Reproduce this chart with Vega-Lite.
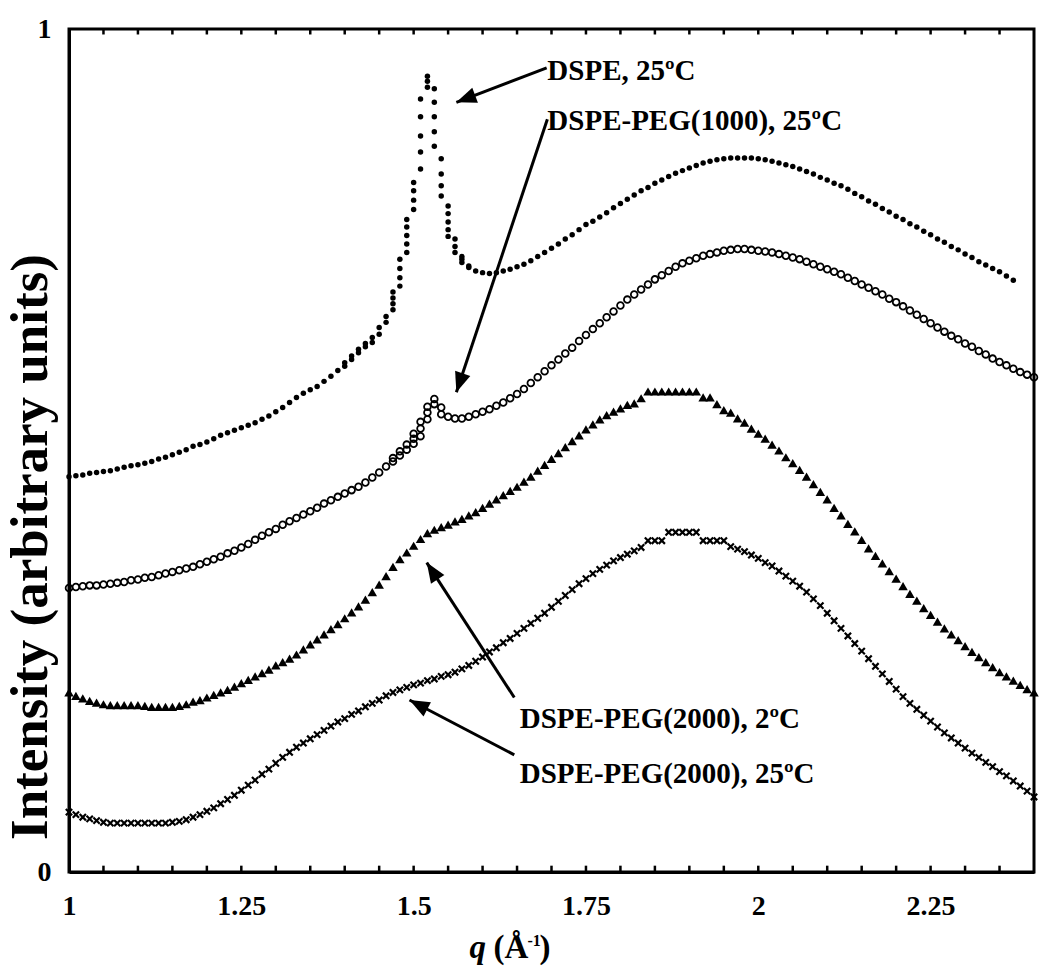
{
  "$schema": "https://vega.github.io/schema/vega-lite/v6.json",
  "width": 965,
  "height": 843,
  "autosize": {"type": "none"},
  "padding": {"left": 69, "top": 29, "right": 16, "bottom": 106},
  "background": "white",
  "config": {"view": {"stroke": "black", "strokeWidth": 3}, "font": "Liberation Serif"},
  "resolve": {"axis": {"x": "independent", "y": "independent"}},
  "datasets": {
    "A": [
      {"q":1.00,"v":0.469},{"q":1.01,"v":0.470},{"q":1.02,"v":0.471},{"q":1.03,"v":0.473},{"q":1.04,"v":0.474},{"q":1.05,"v":0.475},{"q":1.06,"v":0.476},{"q":1.07,"v":0.478},{"q":1.08,"v":0.480},{"q":1.09,"v":0.482},
      {"q":1.10,"v":0.483},{"q":1.11,"v":0.485},{"q":1.12,"v":0.487},{"q":1.13,"v":0.490},{"q":1.14,"v":0.492},{"q":1.15,"v":0.495},{"q":1.16,"v":0.498},{"q":1.17,"v":0.501},{"q":1.18,"v":0.505},{"q":1.19,"v":0.507},
      {"q":1.20,"v":0.510},{"q":1.21,"v":0.514},{"q":1.22,"v":0.518},{"q":1.23,"v":0.521},{"q":1.24,"v":0.524},{"q":1.25,"v":0.527},{"q":1.26,"v":0.530},{"q":1.27,"v":0.533},{"q":1.28,"v":0.537},{"q":1.29,"v":0.541},
      {"q":1.30,"v":0.546},{"q":1.31,"v":0.551},{"q":1.32,"v":0.557},{"q":1.33,"v":0.563},{"q":1.34,"v":0.568},{"q":1.35,"v":0.572},{"q":1.36,"v":0.576},{"q":1.37,"v":0.582},{"q":1.38,"v":0.588},{"q":1.39,"v":0.595},
      {"q":1.40,"v":0.600},{"q":1.40,"v":0.604},{"q":1.41,"v":0.608},{"q":1.41,"v":0.612},{"q":1.42,"v":0.616},{"q":1.42,"v":0.620},{"q":1.43,"v":0.623},{"q":1.43,"v":0.627},{"q":1.44,"v":0.628},{"q":1.44,"v":0.634},
      {"q":1.45,"v":0.638},{"q":1.45,"v":0.646},{"q":1.46,"v":0.652},{"q":1.46,"v":0.659},
      {"q":1.47,"v":0.667},{"q":1.47,"v":0.674},{"q":1.47,"v":0.681},{"q":1.47,"v":0.688},
      {"q":1.48,"v":0.695},{"q":1.48,"v":0.705},{"q":1.48,"v":0.716},{"q":1.48,"v":0.727},
      {"q":1.49,"v":0.735},{"q":1.49,"v":0.745},{"q":1.49,"v":0.755},{"q":1.49,"v":0.765},{"q":1.49,"v":0.774},
      {"q":1.50,"v":0.786},{"q":1.50,"v":0.797},{"q":1.50,"v":0.808},{"q":1.50,"v":0.818},
      {"q":1.51,"v":0.834},{"q":1.51,"v":0.854},{"q":1.51,"v":0.873},{"q":1.51,"v":0.896},{"q":1.51,"v":0.917},
      {"q":1.52,"v":0.931},{"q":1.52,"v":0.938},{"q":1.52,"v":0.944},
      {"q":1.53,"v":0.861},{"q":1.53,"v":0.878},{"q":1.53,"v":0.896},{"q":1.53,"v":0.913},{"q":1.53,"v":0.929},
      {"q":1.54,"v":0.802},{"q":1.54,"v":0.814},{"q":1.54,"v":0.828},{"q":1.54,"v":0.846},
      {"q":1.55,"v":0.754},{"q":1.55,"v":0.762},{"q":1.55,"v":0.771},{"q":1.55,"v":0.781},{"q":1.55,"v":0.790},
      {"q":1.56,"v":0.735},{"q":1.56,"v":0.742},{"q":1.56,"v":0.751},
      {"q":1.57,"v":0.723},{"q":1.57,"v":0.727},{"q":1.57,"v":0.730},
      {"q":1.58,"v":0.717},{"q":1.58,"v":0.719},{"q":1.59,"v":0.713},
      {"q":1.60,"v":0.711},{"q":1.61,"v":0.710},{"q":1.62,"v":0.711},{"q":1.63,"v":0.713},{"q":1.64,"v":0.715},{"q":1.65,"v":0.718},{"q":1.66,"v":0.721},{"q":1.67,"v":0.725},{"q":1.68,"v":0.730},{"q":1.69,"v":0.735},
      {"q":1.70,"v":0.740},{"q":1.71,"v":0.745},{"q":1.72,"v":0.751},{"q":1.73,"v":0.756},{"q":1.74,"v":0.762},{"q":1.75,"v":0.768},{"q":1.76,"v":0.772},{"q":1.77,"v":0.777},{"q":1.78,"v":0.782},{"q":1.79,"v":0.788},
      {"q":1.80,"v":0.793},{"q":1.81,"v":0.798},{"q":1.82,"v":0.803},{"q":1.83,"v":0.808},{"q":1.84,"v":0.812},{"q":1.85,"v":0.817},{"q":1.86,"v":0.821},{"q":1.87,"v":0.825},{"q":1.88,"v":0.829},{"q":1.89,"v":0.832},
      {"q":1.90,"v":0.835},{"q":1.91,"v":0.838},{"q":1.92,"v":0.841},{"q":1.93,"v":0.843},{"q":1.94,"v":0.845},{"q":1.95,"v":0.846},{"q":1.96,"v":0.847},{"q":1.97,"v":0.847},{"q":1.98,"v":0.847},{"q":1.99,"v":0.847},
      {"q":2.00,"v":0.846},{"q":2.01,"v":0.845},{"q":2.02,"v":0.843},{"q":2.03,"v":0.841},{"q":2.04,"v":0.839},{"q":2.05,"v":0.837},{"q":2.06,"v":0.834},{"q":2.07,"v":0.831},{"q":2.08,"v":0.828},{"q":2.09,"v":0.824},
      {"q":2.10,"v":0.821},{"q":2.11,"v":0.817},{"q":2.12,"v":0.814},{"q":2.13,"v":0.810},{"q":2.14,"v":0.805},{"q":2.15,"v":0.801},{"q":2.16,"v":0.796},{"q":2.17,"v":0.792},{"q":2.18,"v":0.787},{"q":2.19,"v":0.783},
      {"q":2.20,"v":0.778},{"q":2.21,"v":0.774},{"q":2.22,"v":0.769},{"q":2.23,"v":0.765},{"q":2.24,"v":0.760},{"q":2.25,"v":0.756},{"q":2.26,"v":0.751},{"q":2.27,"v":0.747},{"q":2.28,"v":0.742},{"q":2.29,"v":0.738},
      {"q":2.30,"v":0.733},{"q":2.31,"v":0.729},{"q":2.32,"v":0.724},{"q":2.33,"v":0.720},{"q":2.34,"v":0.716},{"q":2.35,"v":0.712},{"q":2.36,"v":0.707},{"q":2.37,"v":0.702}
    ],
    "B": [
      {"q":1.00,"v":0.337},{"q":1.01,"v":0.338},{"q":1.02,"v":0.339},{"q":1.03,"v":0.340},{"q":1.04,"v":0.340},{"q":1.05,"v":0.341},{"q":1.06,"v":0.342},{"q":1.07,"v":0.343},{"q":1.08,"v":0.344},{"q":1.09,"v":0.346},
      {"q":1.10,"v":0.347},{"q":1.11,"v":0.349},{"q":1.12,"v":0.350},{"q":1.13,"v":0.352},{"q":1.14,"v":0.354},{"q":1.15,"v":0.356},{"q":1.16,"v":0.358},{"q":1.17,"v":0.360},{"q":1.18,"v":0.362},{"q":1.19,"v":0.365},
      {"q":1.20,"v":0.368},{"q":1.21,"v":0.371},{"q":1.22,"v":0.374},{"q":1.23,"v":0.378},{"q":1.24,"v":0.381},{"q":1.25,"v":0.385},{"q":1.26,"v":0.389},{"q":1.27,"v":0.394},{"q":1.28,"v":0.399},{"q":1.29,"v":0.403},
      {"q":1.30,"v":0.407},{"q":1.31,"v":0.412},{"q":1.32,"v":0.416},{"q":1.33,"v":0.420},{"q":1.34,"v":0.424},{"q":1.35,"v":0.428},{"q":1.36,"v":0.432},{"q":1.37,"v":0.437},{"q":1.38,"v":0.441},{"q":1.39,"v":0.445},
      {"q":1.40,"v":0.449},{"q":1.41,"v":0.453},{"q":1.42,"v":0.457},{"q":1.43,"v":0.462},{"q":1.44,"v":0.468},{"q":1.45,"v":0.474},{"q":1.46,"v":0.481},
      {"q":1.47,"v":0.487},{"q":1.47,"v":0.491},{"q":1.48,"v":0.494},{"q":1.48,"v":0.499},{"q":1.49,"v":0.501},{"q":1.49,"v":0.507},
      {"q":1.50,"v":0.508},{"q":1.50,"v":0.514},{"q":1.50,"v":0.520},{"q":1.51,"v":0.517},{"q":1.51,"v":0.526},{"q":1.51,"v":0.534},
      {"q":1.52,"v":0.537},{"q":1.52,"v":0.545},{"q":1.52,"v":0.552},{"q":1.53,"v":0.555},{"q":1.53,"v":0.561},{"q":1.54,"v":0.543},{"q":1.54,"v":0.551},
      {"q":1.55,"v":0.540},{"q":1.56,"v":0.538},{"q":1.57,"v":0.538},{"q":1.58,"v":0.540},{"q":1.59,"v":0.543},
      {"q":1.60,"v":0.546},{"q":1.61,"v":0.549},{"q":1.62,"v":0.553},{"q":1.63,"v":0.557},{"q":1.64,"v":0.562},{"q":1.65,"v":0.567},{"q":1.66,"v":0.573},{"q":1.67,"v":0.580},{"q":1.68,"v":0.587},{"q":1.69,"v":0.594},
      {"q":1.70,"v":0.601},{"q":1.71,"v":0.608},{"q":1.72,"v":0.615},{"q":1.73,"v":0.622},{"q":1.74,"v":0.630},{"q":1.75,"v":0.637},{"q":1.76,"v":0.644},{"q":1.77,"v":0.651},{"q":1.78,"v":0.658},{"q":1.79,"v":0.665},
      {"q":1.80,"v":0.672},{"q":1.81,"v":0.679},{"q":1.82,"v":0.685},{"q":1.83,"v":0.691},{"q":1.84,"v":0.697},{"q":1.85,"v":0.703},{"q":1.86,"v":0.708},{"q":1.87,"v":0.713},{"q":1.88,"v":0.718},{"q":1.89,"v":0.722},
      {"q":1.90,"v":0.725},{"q":1.91,"v":0.728},{"q":1.92,"v":0.731},{"q":1.93,"v":0.733},{"q":1.94,"v":0.735},{"q":1.95,"v":0.737},{"q":1.96,"v":0.738},{"q":1.97,"v":0.739},{"q":1.98,"v":0.739},{"q":1.99,"v":0.738},
      {"q":2.00,"v":0.737},{"q":2.01,"v":0.736},{"q":2.02,"v":0.735},{"q":2.03,"v":0.733},{"q":2.04,"v":0.731},{"q":2.05,"v":0.729},{"q":2.06,"v":0.727},{"q":2.07,"v":0.724},{"q":2.08,"v":0.721},{"q":2.09,"v":0.718},
      {"q":2.10,"v":0.715},{"q":2.11,"v":0.712},{"q":2.12,"v":0.709},{"q":2.13,"v":0.705},{"q":2.14,"v":0.701},{"q":2.15,"v":0.697},{"q":2.16,"v":0.693},{"q":2.17,"v":0.689},{"q":2.18,"v":0.685},{"q":2.19,"v":0.680},
      {"q":2.20,"v":0.676},{"q":2.21,"v":0.671},{"q":2.22,"v":0.666},{"q":2.23,"v":0.661},{"q":2.24,"v":0.656},{"q":2.25,"v":0.651},{"q":2.26,"v":0.646},{"q":2.27,"v":0.641},{"q":2.28,"v":0.636},{"q":2.29,"v":0.632},
      {"q":2.30,"v":0.627},{"q":2.31,"v":0.623},{"q":2.32,"v":0.618},{"q":2.33,"v":0.614},{"q":2.34,"v":0.609},{"q":2.35,"v":0.605},{"q":2.36,"v":0.601},{"q":2.37,"v":0.597},{"q":2.38,"v":0.593},{"q":2.39,"v":0.590},{"q":2.40,"v":0.587}
    ],
    "C": [
      {"q":1.00,"v":0.213},{"q":1.01,"v":0.209},{"q":1.02,"v":0.206},{"q":1.03,"v":0.203},{"q":1.04,"v":0.201},{"q":1.05,"v":0.199},{"q":1.06,"v":0.198},{"q":1.07,"v":0.198},{"q":1.08,"v":0.198},{"q":1.09,"v":0.198},
      {"q":1.10,"v":0.198},{"q":1.11,"v":0.197},{"q":1.12,"v":0.196},{"q":1.13,"v":0.196},{"q":1.14,"v":0.196},{"q":1.15,"v":0.196},{"q":1.16,"v":0.197},{"q":1.17,"v":0.199},{"q":1.18,"v":0.202},{"q":1.19,"v":0.204},
      {"q":1.20,"v":0.207},{"q":1.21,"v":0.210},{"q":1.22,"v":0.213},{"q":1.23,"v":0.216},{"q":1.24,"v":0.220},{"q":1.25,"v":0.224},{"q":1.26,"v":0.228},{"q":1.27,"v":0.232},{"q":1.28,"v":0.236},{"q":1.29,"v":0.240},
      {"q":1.30,"v":0.245},{"q":1.31,"v":0.249},{"q":1.32,"v":0.253},{"q":1.33,"v":0.258},{"q":1.34,"v":0.264},{"q":1.35,"v":0.270},{"q":1.36,"v":0.276},{"q":1.37,"v":0.282},{"q":1.38,"v":0.288},{"q":1.39,"v":0.294},
      {"q":1.40,"v":0.301},{"q":1.41,"v":0.308},{"q":1.42,"v":0.315},{"q":1.43,"v":0.323},{"q":1.44,"v":0.332},{"q":1.45,"v":0.341},{"q":1.46,"v":0.351},{"q":1.47,"v":0.362},{"q":1.48,"v":0.371},{"q":1.49,"v":0.379},
      {"q":1.50,"v":0.387},{"q":1.51,"v":0.395},{"q":1.52,"v":0.402},{"q":1.53,"v":0.406},{"q":1.54,"v":0.409},{"q":1.55,"v":0.412},{"q":1.56,"v":0.416},{"q":1.57,"v":0.419},{"q":1.58,"v":0.423},{"q":1.59,"v":0.427},
      {"q":1.60,"v":0.432},{"q":1.61,"v":0.437},{"q":1.62,"v":0.442},{"q":1.63,"v":0.447},{"q":1.64,"v":0.452},{"q":1.65,"v":0.457},{"q":1.66,"v":0.463},{"q":1.67,"v":0.469},{"q":1.68,"v":0.476},{"q":1.69,"v":0.483},
      {"q":1.70,"v":0.490},{"q":1.71,"v":0.497},{"q":1.72,"v":0.504},{"q":1.73,"v":0.511},{"q":1.74,"v":0.518},{"q":1.75,"v":0.525},{"q":1.76,"v":0.531},{"q":1.77,"v":0.537},{"q":1.78,"v":0.542},{"q":1.79,"v":0.546},
      {"q":1.80,"v":0.550},{"q":1.81,"v":0.554},{"q":1.82,"v":0.556},{"q":1.83,"v":0.562},{"q":1.84,"v":0.570},{"q":1.85,"v":0.570},{"q":1.86,"v":0.570},{"q":1.87,"v":0.570},{"q":1.88,"v":0.570},{"q":1.89,"v":0.570},
      {"q":1.90,"v":0.570},{"q":1.91,"v":0.570},{"q":1.92,"v":0.563},{"q":1.93,"v":0.563},{"q":1.94,"v":0.555},{"q":1.95,"v":0.548},{"q":1.96,"v":0.545},{"q":1.97,"v":0.538},{"q":1.98,"v":0.533},{"q":1.99,"v":0.526},
      {"q":2.00,"v":0.520},{"q":2.01,"v":0.514},{"q":2.02,"v":0.507},{"q":2.03,"v":0.500},{"q":2.04,"v":0.492},{"q":2.05,"v":0.485},{"q":2.06,"v":0.477},{"q":2.07,"v":0.469},{"q":2.08,"v":0.460},{"q":2.09,"v":0.451},
      {"q":2.10,"v":0.442},{"q":2.11,"v":0.432},{"q":2.12,"v":0.423},{"q":2.13,"v":0.413},{"q":2.14,"v":0.404},{"q":2.15,"v":0.394},{"q":2.16,"v":0.384},{"q":2.17,"v":0.375},{"q":2.18,"v":0.366},{"q":2.19,"v":0.357},
      {"q":2.20,"v":0.348},{"q":2.21,"v":0.339},{"q":2.22,"v":0.330},{"q":2.23,"v":0.322},{"q":2.24,"v":0.313},{"q":2.25,"v":0.305},{"q":2.26,"v":0.297},{"q":2.27,"v":0.289},{"q":2.28,"v":0.282},{"q":2.29,"v":0.275},
      {"q":2.30,"v":0.268},{"q":2.31,"v":0.261},{"q":2.32,"v":0.255},{"q":2.33,"v":0.249},{"q":2.34,"v":0.243},{"q":2.35,"v":0.237},{"q":2.36,"v":0.232},{"q":2.37,"v":0.227},{"q":2.38,"v":0.222},{"q":2.39,"v":0.217},{"q":2.40,"v":0.213}
    ],
    "D": [
      {"q":1.00,"v":0.071},{"q":1.01,"v":0.068},{"q":1.02,"v":0.065},{"q":1.03,"v":0.063},{"q":1.04,"v":0.061},{"q":1.05,"v":0.059},{"q":1.06,"v":0.058},{"q":1.07,"v":0.058},{"q":1.08,"v":0.058},{"q":1.09,"v":0.058},
      {"q":1.10,"v":0.058},{"q":1.11,"v":0.058},{"q":1.12,"v":0.058},{"q":1.13,"v":0.058},{"q":1.14,"v":0.058},{"q":1.15,"v":0.059},{"q":1.16,"v":0.060},{"q":1.17,"v":0.062},{"q":1.18,"v":0.065},{"q":1.19,"v":0.068},
      {"q":1.20,"v":0.072},{"q":1.21,"v":0.076},{"q":1.22,"v":0.081},{"q":1.23,"v":0.086},{"q":1.24,"v":0.091},{"q":1.25,"v":0.097},{"q":1.26,"v":0.103},{"q":1.27,"v":0.109},{"q":1.28,"v":0.116},{"q":1.29,"v":0.122},
      {"q":1.30,"v":0.129},{"q":1.31,"v":0.136},{"q":1.32,"v":0.142},{"q":1.33,"v":0.148},{"q":1.34,"v":0.153},{"q":1.35,"v":0.158},{"q":1.36,"v":0.163},{"q":1.37,"v":0.168},{"q":1.38,"v":0.173},{"q":1.39,"v":0.178},
      {"q":1.40,"v":0.182},{"q":1.41,"v":0.187},{"q":1.42,"v":0.191},{"q":1.43,"v":0.196},{"q":1.44,"v":0.200},{"q":1.45,"v":0.204},{"q":1.46,"v":0.209},{"q":1.47,"v":0.213},{"q":1.48,"v":0.216},{"q":1.49,"v":0.219},
      {"q":1.50,"v":0.222},{"q":1.51,"v":0.224},{"q":1.52,"v":0.227},{"q":1.53,"v":0.229},{"q":1.54,"v":0.232},{"q":1.55,"v":0.234},{"q":1.56,"v":0.237},{"q":1.57,"v":0.241},{"q":1.58,"v":0.245},{"q":1.59,"v":0.250},
      {"q":1.60,"v":0.255},{"q":1.61,"v":0.261},{"q":1.62,"v":0.266},{"q":1.63,"v":0.272},{"q":1.64,"v":0.277},{"q":1.65,"v":0.283},{"q":1.66,"v":0.289},{"q":1.67,"v":0.295},{"q":1.68,"v":0.301},{"q":1.69,"v":0.307},
      {"q":1.70,"v":0.314},{"q":1.71,"v":0.321},{"q":1.72,"v":0.328},{"q":1.73,"v":0.335},{"q":1.74,"v":0.342},{"q":1.75,"v":0.348},{"q":1.76,"v":0.354},{"q":1.77,"v":0.359},{"q":1.78,"v":0.364},{"q":1.79,"v":0.369},
      {"q":1.80,"v":0.373},{"q":1.81,"v":0.377},{"q":1.82,"v":0.381},{"q":1.83,"v":0.385},{"q":1.84,"v":0.393},{"q":1.85,"v":0.393},{"q":1.86,"v":0.393},{"q":1.87,"v":0.403},{"q":1.88,"v":0.403},{"q":1.89,"v":0.403},
      {"q":1.90,"v":0.403},{"q":1.91,"v":0.403},{"q":1.92,"v":0.393},{"q":1.93,"v":0.393},{"q":1.94,"v":0.393},{"q":1.95,"v":0.393},{"q":1.96,"v":0.386},{"q":1.97,"v":0.383},{"q":1.98,"v":0.380},{"q":1.99,"v":0.376},
      {"q":2.00,"v":0.372},{"q":2.01,"v":0.367},{"q":2.02,"v":0.363},{"q":2.03,"v":0.357},{"q":2.04,"v":0.351},{"q":2.05,"v":0.345},{"q":2.06,"v":0.339},{"q":2.07,"v":0.332},{"q":2.08,"v":0.324},{"q":2.09,"v":0.316},
      {"q":2.10,"v":0.307},{"q":2.11,"v":0.298},{"q":2.12,"v":0.289},{"q":2.13,"v":0.280},{"q":2.14,"v":0.271},{"q":2.15,"v":0.262},{"q":2.16,"v":0.253},{"q":2.17,"v":0.244},{"q":2.18,"v":0.235},{"q":2.19,"v":0.226},
      {"q":2.20,"v":0.217},{"q":2.21,"v":0.208},{"q":2.22,"v":0.200},{"q":2.23,"v":0.193},{"q":2.24,"v":0.186},{"q":2.25,"v":0.179},{"q":2.26,"v":0.172},{"q":2.27,"v":0.165},{"q":2.28,"v":0.159},{"q":2.29,"v":0.153},
      {"q":2.30,"v":0.147},{"q":2.31,"v":0.141},{"q":2.32,"v":0.136},{"q":2.33,"v":0.130},{"q":2.34,"v":0.125},{"q":2.35,"v":0.119},{"q":2.36,"v":0.114},{"q":2.37,"v":0.108},{"q":2.38,"v":0.102},{"q":2.39,"v":0.096},{"q":2.40,"v":0.089}
    ],
    "minorq": [
      {"q":1.05},{"q":1.10},{"q":1.15},{"q":1.20},{"q":1.25},{"q":1.30},{"q":1.35},{"q":1.40},{"q":1.45},{"q":1.50},{"q":1.55},{"q":1.60},{"q":1.65},{"q":1.70},
      {"q":1.75},{"q":1.80},{"q":1.85},{"q":1.90},{"q":1.95},{"q":2.00},{"q":2.05},{"q":2.10},{"q":2.15},{"q":2.20},{"q":2.25},{"q":2.30},{"q":2.35}
    ],
    "arrows": [
      {"q":1.693,"v":0.954,"q2":1.562,"v2":0.913,"ang":249.3},
      {"q":1.694,"v":0.893,"q2":1.562,"v2":0.569,"ang":198.4},
      {"q":1.646,"v":0.207,"q2":1.519,"v2":0.367,"ang":326.9},
      {"q":1.646,"v":0.139,"q2":1.494,"v2":0.204,"ang":297.6}
    ],
    "labels": [
      {"q":1.694,"v":0.950,"t":"DSPE, 25ºC"},
      {"q":1.694,"v":0.891,"t":"DSPE-PEG(1000), 25ºC"},
      {"q":1.654,"v":0.182,"t":"DSPE-PEG(2000), 2ºC"},
      {"q":1.654,"v":0.116,"t":"DSPE-PEG(2000), 25ºC"}
    ],
    "xtitle": [
      {"q":1.5812,"v":-0.1021,"t":"q","part":"q"},
      {"q":1.6159,"v":-0.1021,"t":"(Å","part":"main"},
      {"q":1.6652,"v":-0.0879,"t":"-1","part":"sup"},
      {"q":1.6826,"v":-0.1021,"t":")","part":"main"}
    ],
    "ytitle": [
      {"q":0.9681,"v":0.3855,"t":"Intensity (arbitrary units)"}
    ]
  },
  "layer": [
    {
      "data": {"name": "A"},
      "mark": {"type": "point", "shape": "circle", "filled": true, "size": 30, "color": "black", "opacity": 1},
      "encoding": {
        "x": {"field": "q", "type": "quantitative", "scale": {"domain": [1, 2.4], "nice": false, "zero": false},
          "axis": {"orient": "bottom", "title": null, "grid": false, "zindex": 2,
            "values": [1,1.25,1.5,1.75,2,2.25],
            "labelExpr": "format(datum.value, '.3~g')",
            "ticks": false, "tickSize": 0, "domainColor": "black", "domainWidth": 3,
            "labelFont": "Liberation Serif", "labelFontWeight": "bold", "labelFontSize": 28, "labelColor": "black",
            "labelPadding": 20, "labelFlush": false, "labelOverlap": false, "labelBound": false}},
        "y": {"field": "v", "type": "quantitative", "scale": {"domain": [0, 1], "nice": false, "zero": false},
          "axis": {"orient": "left", "grid": false, "values": [0, 1], "format": "d", "ticks": false, "tickSize": 0, "zindex": 2,
            "domainColor": "black", "domainWidth": 3,
            "labelFont": "Liberation Serif", "labelFontWeight": "bold", "labelFontSize": 28, "labelColor": "black",
            "labelPadding": 18, "labelFlush": false, "labelBaseline": "middle", "labelBound": false,
            "title": null}}
      }
    },
    {
      "data": {"name": "B"},
      "mark": {"type": "point", "shape": "circle", "filled": false, "size": 45, "strokeWidth": 1.8, "color": "black", "opacity": 1},
      "encoding": {
        "x": {"field": "q", "type": "quantitative", "scale": {"domain": [1, 2.4], "nice": false, "zero": false}, "axis": null},
        "y": {"field": "v", "type": "quantitative", "scale": {"domain": [0, 1], "nice": false, "zero": false}, "axis": null}
      }
    },
    {
      "data": {"name": "C"},
      "mark": {"type": "point", "shape": "triangle-up", "filled": true, "size": 90, "color": "black", "opacity": 1},
      "encoding": {
        "x": {"field": "q", "type": "quantitative", "scale": {"domain": [1, 2.4], "nice": false, "zero": false}, "axis": null},
        "y": {"field": "v", "type": "quantitative", "scale": {"domain": [0, 1], "nice": false, "zero": false}, "axis": null}
      }
    },
    {
      "data": {"name": "D"},
      "mark": {"type": "point", "shape": "M-1,-1L1,1M-1,1L1,-1", "filled": false, "size": 40, "strokeWidth": 2.2, "color": "black", "opacity": 1},
      "encoding": {
        "x": {"field": "q", "type": "quantitative", "scale": {"domain": [1, 2.4], "nice": false, "zero": false}, "axis": null},
        "y": {"field": "v", "type": "quantitative", "scale": {"domain": [0, 1], "nice": false, "zero": false}, "axis": null}
      }
    },
    {
      "data": {"name": "minorq"},
      "transform": [{"calculate": "0", "as": "ya"}, {"calculate": "0.0075", "as": "yb"}],
      "mark": {"type": "rule", "color": "black", "strokeWidth": 2.5},
      "encoding": {
        "x": {"field": "q", "type": "quantitative", "scale": {"domain": [1, 2.4], "nice": false, "zero": false}, "axis": null},
        "y": {"field": "ya", "type": "quantitative", "scale": {"domain": [0, 1], "nice": false, "zero": false}, "axis": null},
        "y2": {"field": "yb"}
      }
    },
    {
      "data": {"name": "minorq"},
      "transform": [{"calculate": "1", "as": "ya"}, {"calculate": "0.9935", "as": "yb"}],
      "mark": {"type": "rule", "color": "black", "strokeWidth": 2.5},
      "encoding": {
        "x": {"field": "q", "type": "quantitative", "scale": {"domain": [1, 2.4], "nice": false, "zero": false}, "axis": null},
        "y": {"field": "ya", "type": "quantitative", "scale": {"domain": [0, 1], "nice": false, "zero": false}, "axis": null},
        "y2": {"field": "yb"}
      }
    },
    {
      "data": {"name": "arrows"},
      "mark": {"type": "rule", "color": "black", "strokeWidth": 3},
      "encoding": {
        "x": {"field": "q", "type": "quantitative", "scale": {"domain": [1, 2.4], "nice": false, "zero": false}, "axis": null},
        "y": {"field": "v", "type": "quantitative", "scale": {"domain": [0, 1], "nice": false, "zero": false}, "axis": null},
        "x2": {"field": "q2"},
        "y2": {"field": "v2"}
      }
    },
    {
      "data": {"name": "arrows"},
      "mark": {"type": "point", "shape": "M0,0L-0.4,1L0.4,1Z", "filled": true, "size": 1600, "color": "black", "opacity": 1, "strokeWidth": 0},
      "encoding": {
        "x": {"field": "q2", "type": "quantitative", "scale": {"domain": [1, 2.4], "nice": false, "zero": false}, "axis": null},
        "y": {"field": "v2", "type": "quantitative", "scale": {"domain": [0, 1], "nice": false, "zero": false}, "axis": null},
        "angle": {"field": "ang", "type": "quantitative", "scale": null}
      }
    },
    {
      "data": {"name": "labels"},
      "mark": {"type": "text", "font": "Liberation Serif", "fontWeight": "bold", "fontSize": 29, "align": "left", "baseline": "middle", "color": "black"},
      "encoding": {
        "x": {"field": "q", "type": "quantitative", "scale": {"domain": [1, 2.4], "nice": false, "zero": false}, "axis": null},
        "y": {"field": "v", "type": "quantitative", "scale": {"domain": [0, 1], "nice": false, "zero": false}, "axis": null},
        "text": {"field": "t"}
      }
    },
    {
      "data": {"name": "ytitle"},
      "mark": {"type": "text", "font": "Liberation Serif", "fontWeight": "bold", "fontSize": 53, "align": "center", "baseline": "alphabetic", "angle": 270, "color": "black"},
      "encoding": {
        "x": {"field": "q", "type": "quantitative", "scale": {"domain": [1, 2.4], "nice": false, "zero": false}, "axis": null},
        "y": {"field": "v", "type": "quantitative", "scale": {"domain": [0, 1], "nice": false, "zero": false}, "axis": null},
        "text": {"field": "t"}
      }
    },
    {
      "data": {"name": "xtitle"},
      "transform": [{"filter": "datum.part === 'q'"}],
      "mark": {"type": "text", "font": "Liberation Serif", "fontWeight": "bold", "fontStyle": "italic", "fontSize": 33, "align": "left", "baseline": "alphabetic", "color": "black"},
      "encoding": {
        "x": {"field": "q", "type": "quantitative", "scale": {"domain": [1, 2.4], "nice": false, "zero": false}, "axis": null},
        "y": {"field": "v", "type": "quantitative", "scale": {"domain": [0, 1], "nice": false, "zero": false}, "axis": null},
        "text": {"field": "t"}
      }
    },
    {
      "data": {"name": "xtitle"},
      "transform": [{"filter": "datum.part === 'main'"}],
      "mark": {"type": "text", "font": "Liberation Serif", "fontWeight": "bold", "fontSize": 33, "align": "left", "baseline": "alphabetic", "color": "black"},
      "encoding": {
        "x": {"field": "q", "type": "quantitative", "scale": {"domain": [1, 2.4], "nice": false, "zero": false}, "axis": null},
        "y": {"field": "v", "type": "quantitative", "scale": {"domain": [0, 1], "nice": false, "zero": false}, "axis": null},
        "text": {"field": "t"}
      }
    },
    {
      "data": {"name": "xtitle"},
      "transform": [{"filter": "datum.part === 'sup'"}],
      "mark": {"type": "text", "font": "Liberation Serif", "fontWeight": "bold", "fontSize": 16, "align": "left", "baseline": "alphabetic", "color": "black"},
      "encoding": {
        "x": {"field": "q", "type": "quantitative", "scale": {"domain": [1, 2.4], "nice": false, "zero": false}, "axis": null},
        "y": {"field": "v", "type": "quantitative", "scale": {"domain": [0, 1], "nice": false, "zero": false}, "axis": null},
        "text": {"field": "t"}
      }
    }
  ]
}
